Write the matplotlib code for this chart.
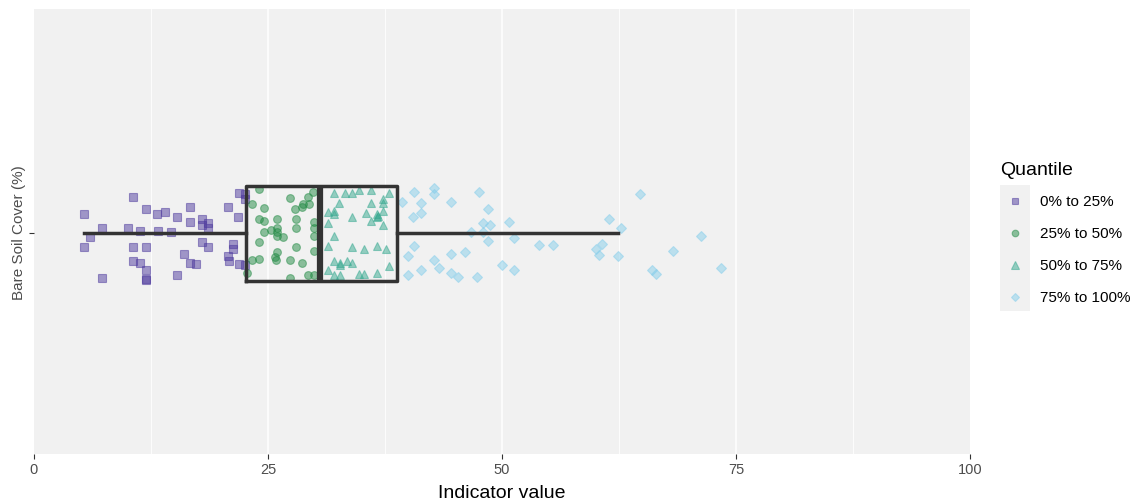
import matplotlib
matplotlib.use("Agg")
import matplotlib.pyplot as plt
from matplotlib.patches import Rectangle

plt.rcParams["font.family"] = ["Liberation Sans", "DejaVu Sans"]

# -----------------------------
# DATA
# -----------------------------
indicator = "Bare Soil Cover (%)"
quantile_labels = ["0% to 25%", "25% to 50%", "50% to 75%", "75% to 100%"]

# indicator values and vertical jitter, one pair of lists per quantile group
q1_value = [10.6, 5.3, 12.0, 13.1, 14.0, 15.3, 7.3, 10.0, 11.3, 13.3, 14.6, 6.0,
            5.3, 10.6, 12.0, 10.6, 11.3, 12.0, 7.3, 12.0, 12.0, 15.3, 16.7, 16.7,
            18.0, 18.0, 18.6, 18.6, 20.7, 21.8, 21.9, 22.5, 22.5, 18.0, 18.6, 21.3,
            21.3, 16.0, 16.7, 17.3, 20.7, 20.8, 21.9, 22.5]
q1_jitter = [0.29, 0.15, 0.19, 0.15, 0.17, 0.13, 0.04, 0.04, 0.02, 0.02, 0.01, -0.03,
             -0.11, -0.11, -0.11, -0.22, -0.23, -0.29, -0.35, -0.36, -0.37, -0.33, 0.21, 0.09,
             0.11, 0.07, 0.08, 0.04, 0.21, 0.13, 0.32, 0.31, 0.27, -0.07, -0.11, -0.08,
             -0.12, -0.16, -0.23, -0.24, -0.18, -0.22, -0.24, -0.25]

q2_value = [24.0, 27.3, 29.3, 29.8, 23.3, 24.6, 28.7, 28.6, 27.9, 29.4, 24.0, 24.6,
            26.0, 28.0, 29.9, 24.6, 25.3, 26.0, 26.0, 26.0, 26.6, 28.0, 29.9, 29.9,
            24.0, 28.0, 29.9, 25.8, 26.0, 25.9, 27.3, 28.6, 23.3, 24.0, 22.8, 29.3,
            29.9, 27.3]
q2_jitter = [0.35, 0.28, 0.29, 0.33, 0.23, 0.20, 0.23, 0.21, 0.19, 0.23, 0.11, 0.10,
             0.11, 0.11, 0.09, 0.01, 0.03, 0.04, 0.01, -0.02, -0.03, 0.04, 0.04, -0.02,
             -0.07, -0.11, -0.14, -0.19, -0.15, -0.21, -0.21, -0.23, -0.21, -0.20, -0.31, -0.33,
             -0.33, -0.35]

q3_value = [32.0, 33.2, 34.0, 34.7, 36.0, 37.9, 32.6, 36.0, 37.3, 37.3, 31.4, 32.0,
            32.0, 34.0, 35.5, 36.6, 36.6, 36.8, 37.3, 36.0, 37.3, 31.4, 32.0, 31.4,
            34.0, 35.3, 36.6, 37.6, 32.0, 32.7, 32.7, 33.4, 34.0, 31.4, 32.0, 32.7,
            34.7, 35.3, 36.6, 37.9]
q3_jitter = [0.32, 0.32, 0.32, 0.34, 0.34, 0.32, 0.24, 0.24, 0.27, 0.24, 0.17, 0.18,
             0.15, 0.13, 0.16, 0.15, 0.13, 0.14, 0.18, 0.10, 0.07, 0.08, -0.02, -0.10,
             -0.11, -0.12, -0.10, -0.12, -0.22, -0.23, -0.25, -0.22, -0.23, -0.29, -0.33, -0.33,
             -0.32, -0.32, -0.31, -0.26]

q4_value = [39.3, 40.6, 41.3, 42.7, 42.7, 44.5, 47.5, 40.5, 41.3, 48.5, 48.0, 48.7,
            50.7, 46.7, 48.0, 48.5, 51.3, 40.6, 40.0, 42.7, 43.3, 44.6, 46.0, 40.0,
            41.3, 44.6, 45.3, 47.3, 50.0, 51.3, 64.7, 61.4, 62.7, 71.3, 54.0, 55.4,
            60.0, 60.7, 60.4, 62.4, 68.3, 66.0, 66.4, 73.4]
q4_jitter = [0.25, 0.33, 0.24, 0.36, 0.31, 0.25, 0.33, 0.13, 0.16, 0.19, 0.08, 0.07,
             0.09, 0.01, 0.01, -0.06, -0.04, -0.10, -0.18, -0.21, -0.27, -0.16, -0.15, -0.33,
             -0.29, -0.31, -0.34, -0.34, -0.25, -0.29, 0.31, 0.11, 0.04, -0.02, -0.09, -0.09,
             -0.12, -0.08, -0.17, -0.18, -0.14, -0.29, -0.32, -0.27]

# box summary (whisker ends, quartiles, median)
box_low, box_q1, box_median, box_q3, box_high = 5.3, 22.6, 30.6, 38.8, 62.4

# -----------------------------
# STYLE
# -----------------------------
colors = ["#4E3A9E", "#238B45", "#35A88F", "#87CEEB"]
markers = ["s", "o", "^", "D"]
msizes = [5.2, 5.6, 6.3, 5.0]
panel_bg = "#F1F1F1"
text_grey = "#4D4D4D"

groups = [(q1_value, q1_jitter), (q2_value, q2_jitter),
          (q3_value, q3_jitter), (q4_value, q4_jitter)]

# -----------------------------
# FIGURE
# -----------------------------
fig = plt.figure(figsize=(11.35, 5.02), dpi=100)
ax = fig.add_axes([34 / 1135, 1 - 455 / 502, 936 / 1135, 445 / 502])
ax.set_facecolor(panel_bg)
for s in ax.spines.values():
    s.set_visible(False)

# grid
for gx in [12.5, 37.5, 62.5, 87.5]:
    ax.axvline(gx, color="white", lw=0.6, zorder=0)
for gx in [25, 50, 75]:
    ax.axvline(gx, color="white", lw=1.1, zorder=0)

# jittered points
for (vals, jit), col, mk, ms in zip(groups, colors, markers, msizes):
    ax.plot(vals, jit, linestyle="none", marker=mk, markersize=ms,
            markerfacecolor=col, markeredgecolor=col, markeredgewidth=0.8,
            alpha=0.5, zorder=2)

# boxplot on top, no fill
stats = [dict(whislo=box_low, q1=box_q1, med=box_median, q3=box_q3,
              whishi=box_high, fliers=[])]
ax.bxp(stats, positions=[0], widths=0.75, orientation="horizontal",
       showcaps=False, showfliers=False,
       boxprops=dict(color="#333333", linewidth=2.5),
       whiskerprops=dict(color="#333333", linewidth=2.5),
       medianprops=dict(color="#333333", linewidth=4.5, solid_capstyle="butt"),
       zorder=3)

ax.set_xlim(0, 100)
ax.set_ylim(-1.74, 1.77)

# axes
ax.set_xticks([0, 25, 50, 75, 100])
ax.set_xticklabels(["0", "25", "50", "75", "100"])
ax.set_yticks([0])
ax.set_yticklabels([""])
ax.tick_params(axis="both", length=3.5, width=0.8, color="#333333",
               labelsize=10.5, labelcolor=text_grey, pad=2.5)
ax.set_xlabel("Indicator value", fontsize=14, color="black")
ax.xaxis.set_label_coords(0.5, -0.068)
ax.set_ylabel(indicator, fontsize=11, color=text_grey)
ax.yaxis.set_label_coords(-0.009, 0.5)

# -----------------------------
# LEGEND
# -----------------------------
lg = fig.add_axes([995 / 1135, 1 - 320 / 502, 140 / 1135, 165 / 502])
lg.set_xlim(995, 1135)
lg.set_ylim(320, 155)
lg.axis("off")
lg.text(1000, 171, "Quantile", fontsize=14, va="center", ha="left")
lg.add_patch(Rectangle((1000, 186), 30, 126, facecolor=panel_bg, edgecolor="none"))
key_y = [202, 234, 266, 298]
for ky, lab, col, mk, ms in zip(key_y, quantile_labels, colors, markers, msizes):
    lg.plot([1015], [ky], linestyle="none", marker=mk, markersize=ms * 0.85,
            markerfacecolor=col, markeredgecolor=col, markeredgewidth=0.8, alpha=0.5)
    lg.text(1040, ky, lab, fontsize=11, va="center", ha="left")

fig.savefig("out.png", dpi=100)
